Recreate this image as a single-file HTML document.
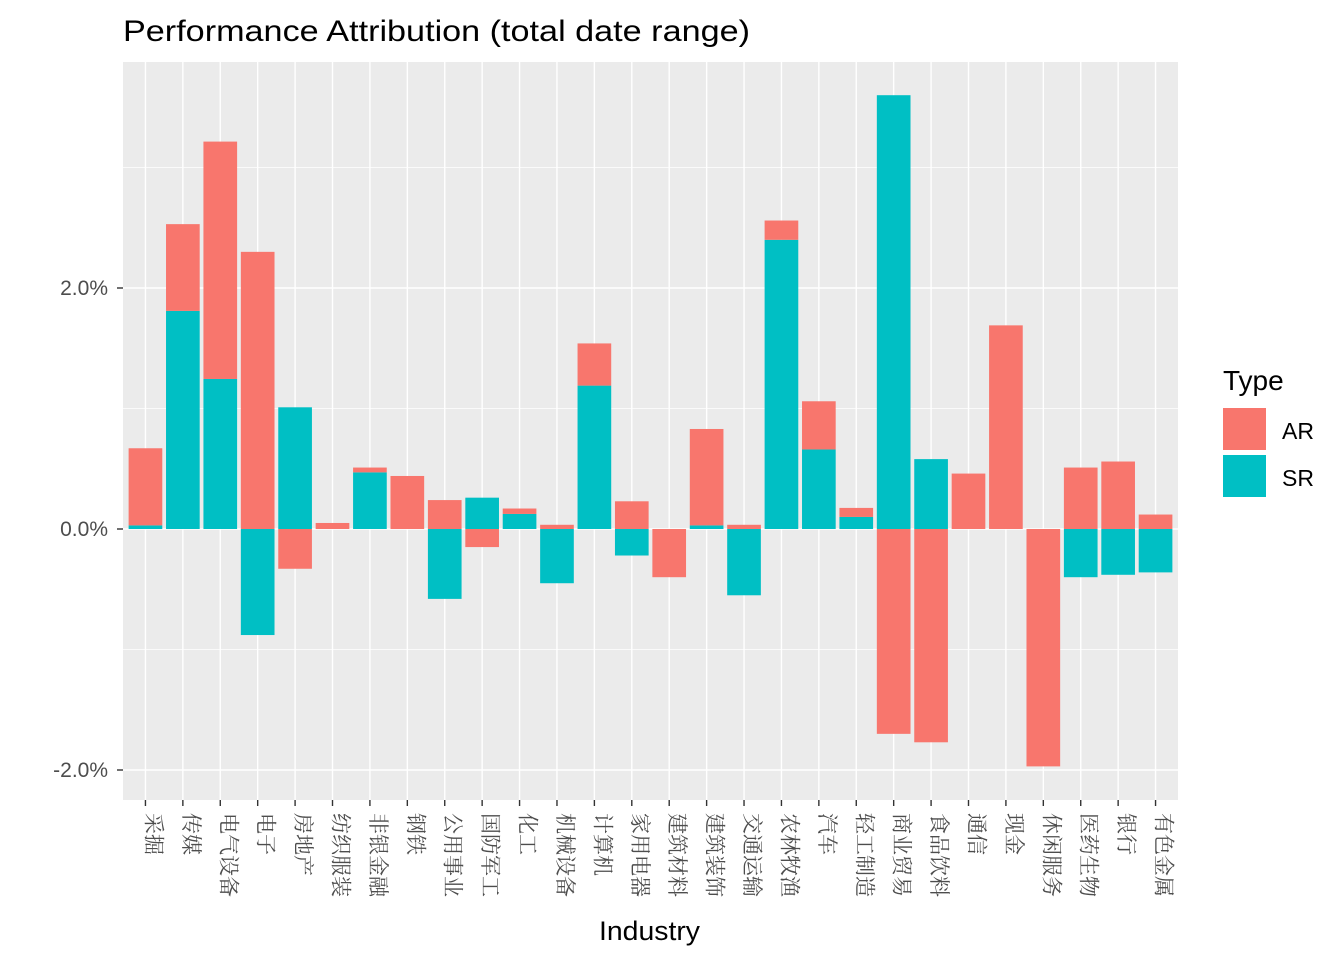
<!DOCTYPE html>
<html><head><meta charset="utf-8"><style>
body{margin:0;background:#fff;}
svg{display:block;font-family:"Liberation Sans",sans-serif;}
</style></head><body>
<svg id="chart" width="1344" height="960">
<text x="123" y="41" font-size="30" textLength="627" lengthAdjust="spacingAndGlyphs" fill="#000">Performance Attribution (total date range)</text>
<rect x="123" y="62" width="1055" height="738" fill="#ebebeb"/>
<g id="grid"></g><g id="bars"></g><g id="axes"></g>
<text x="599" y="940" font-size="27" textLength="101" lengthAdjust="spacingAndGlyphs">Industry</text>
<g>
<text x="1223" y="390" font-size="28">Type</text>
<rect x="1223" y="408" width="43" height="42" fill="#F8766D"/>
<text x="1282" y="439" font-size="23">AR</text>
<rect x="1223" y="455" width="43" height="42" fill="#00BFC4"/>
<text x="1282" y="486" font-size="23">SR</text>
</g>
</svg>
<script>
const categories=["采掘","传媒","电气设备","电子","房地产","纺织服装","非银金融","钢铁","公用事业","国防军工","化工","机械设备","计算机","家用电器","建筑材料","建筑装饰","交通运输","农林牧渔","汽车","轻工制造","商业贸易","食品饮料","通信","现金","休闲服务","医药生物","银行","有色金属"];
const arValues=[0.64,0.72,1.97,2.30,-0.33,0.05,0.04,0.44,0.24,-0.15,0.045,0.035,0.35,0.23,-0.40,0.80,0.035,0.16,0.40,0.075,-1.70,-1.77,0.46,1.69,-1.97,0.51,0.56,0.12];
const srValues=[0.03,1.81,1.245,-0.88,1.01,0,0.47,0,-0.58,0.26,0.125,-0.45,1.19,-0.22,0,0.03,-0.55,2.40,0.66,0.10,3.60,0.58,0,0,0,-0.40,-0.38,-0.36];
const yTicks=[-2,0,2];
const yMinor=[-1,1,3];
const NS="http://www.w3.org/2000/svg";
const x0=123,x1=1178,y0=62,y1=800;
const band=(x1-x0)/(categories.length+0.2);
const xc=i=>x0+band*0.6+i*band;
const ys=v=>529-v*120.5;
const bw=band*0.9;
function mk(tag,attrs,parent){const e=document.createElementNS(NS,tag);for(const k in attrs)e.setAttribute(k,attrs[k]);parent.appendChild(e);return e;}
const grid=document.getElementById('grid'),bars=document.getElementById('bars'),axes=document.getElementById('axes');
yMinor.forEach(v=>{const l=mk('line',{x1:x0,x2:x1,y1:ys(v),y2:ys(v),stroke:'#fff','stroke-width':0.7},grid);

});
yTicks.forEach(v=>{const l=mk('line',{x1:x0,x2:x1,y1:ys(v),y2:ys(v),stroke:'#fff','stroke-width':1.4},grid);


const t=mk('line',{x1:117,x2:123,y1:ys(v),y2:ys(v),stroke:'#333','stroke-width':1.4},axes);


const tx=mk('text',{x:108,y:ys(v)+7,'font-size':21,'text-anchor':'end',fill:'#4d4d4d'},axes);
tx.textContent=v.toFixed(1)+'%';

});
categories.forEach((c,i)=>{const x=xc(i);
const g=mk('line',{x1:x,x2:x,y1:y0,y2:y1,stroke:'#fff','stroke-width':1.4},grid);


let pos=0,neg=0;
const segs=[['sr',srValues[i],'#00BFC4'],['ar',arValues[i],'#F8766D']];
segs.forEach(([n,v,col])=>{if(v===0)return;let a,b;
if(v>0){a=pos;b=pos+v;pos=b;}else{a=neg;b=neg+v;neg=b;}
const r=mk('rect',{x:x-bw/2,y:Math.min(ys(a),ys(b)),width:bw,height:Math.abs(ys(a)-ys(b)),fill:col},bars);

});
const t=mk('line',{x1:x,x2:x,y1:800,y2:806,stroke:'#333','stroke-width':1.4},axes);


const tx=mk('text',{x:0,y:0,'font-size':21,fill:'#4d4d4d','font-family':'"Noto Serif CJK SC","Liberation Serif",serif','dominant-baseline':'central',transform:`translate(${x+9},813) rotate(90)`},axes);
tx.textContent=c;

});
</script>
</body></html>
